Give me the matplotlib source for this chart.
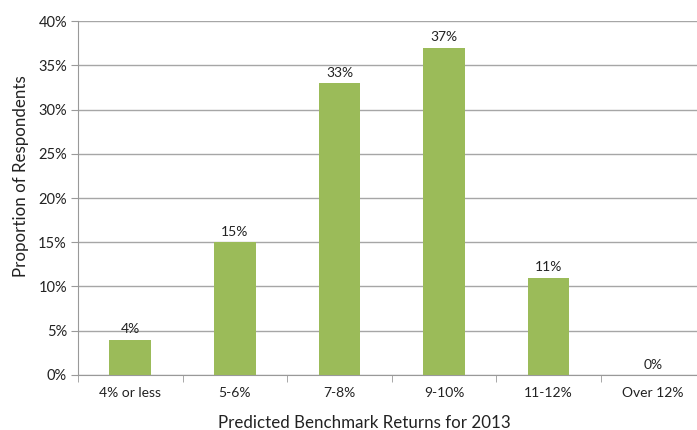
import matplotlib.pyplot as plt
import numpy as np

categories = ['4% or less', '5-6%', '7-8%', '9-10%', '11-12%', 'Over 12%']
values = [4, 15, 33, 37, 11, 0]

plt.rcParams['font.family'] = ['Lato', 'DejaVu Sans']

fig = plt.figure(figsize=(6.97, 4.30), dpi=100)
ax = fig.add_axes([0.112, 0.128, 0.9, 0.823])

x = np.arange(len(categories))
ax.bar(x, values, width=0.40, color='#9BBB59', zorder=3)
for xi, v in zip(x, values):
    ax.text(xi, v + 0.5, '%d%%' % v, ha='center', va='bottom', fontsize=10, color='#222222')

ax.set_xlim(-0.5, len(categories) - 0.5)
ax.set_ylim(0, 40)
ax.set_yticks(range(0, 41, 5))
ax.set_yticklabels(['%d%%' % t for t in range(0, 41, 5)], fontsize=10.5, color='#222222')
ax.set_xticks(x)
ax.set_xticklabels(categories, fontsize=10, color='#222222')
ax.set_xticks(np.arange(-0.5, len(categories), 1.0), minor=True)
ax.tick_params(axis='x', which='major', length=0, pad=9)
ax.tick_params(axis='x', which='minor', length=5, color='#999999')
ax.tick_params(axis='y', length=5, color='#999999', pad=3)
ax.grid(axis='y', color='#A6A6A6', linewidth=1, zorder=0)

for s in ['top', 'right']:
    ax.spines[s].set_visible(False)
ax.spines['left'].set_color('#999999')
ax.spines['bottom'].set_color('#999999')

ax.set_ylabel('Proportion of Respondents', fontsize=12.2, color='#222222')
ax.yaxis.set_label_coords(-0.078, 0.562)
ax.set_xlabel('Predicted Benchmark Returns for 2013', fontsize=12.2, color='#222222')
ax.xaxis.set_label_coords(0.456, -0.113)

fig.savefig('out.png', dpi=100)
